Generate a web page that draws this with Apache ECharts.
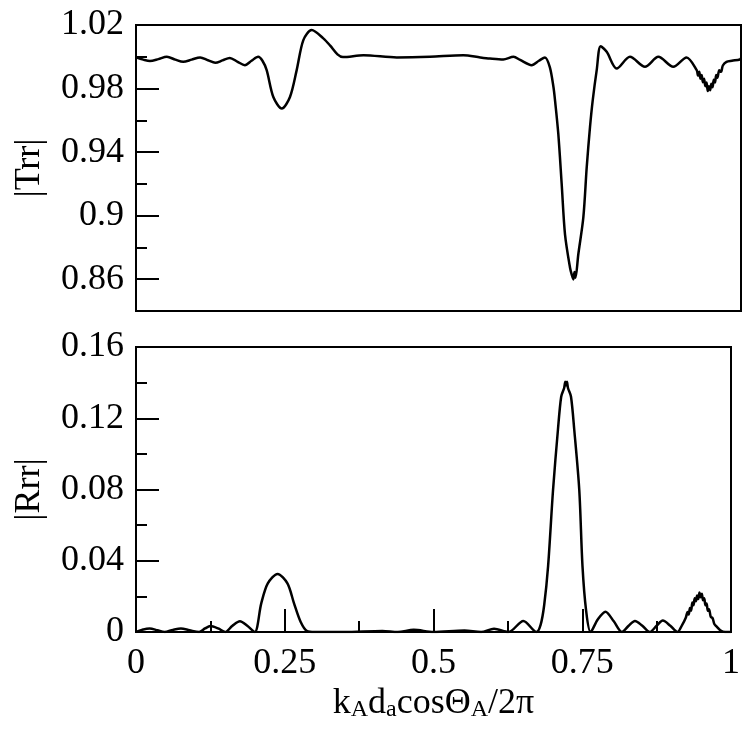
<!DOCTYPE html>
<html>
<head>
<meta charset="utf-8">
<script src="https://cdn.jsdelivr.net/npm/echarts@6/dist/echarts.min.js"></script>
<style>html,body{margin:0;padding:0;background:#fff;}#c{width:743px;height:733px;}</style>
</head>
<body>
<div id="c"></div>
<script>
// |Trr| (top panel)
var trrX = [0.000,0.012,0.023,0.037,0.051,0.065,0.078,0.092,0.106,0.119,0.131,0.143,0.155,0.168,0.180,0.191,0.202,0.209,0.216,0.227,0.241,0.2545,0.2656,0.2766,0.2904,0.3096,0.321,0.333,0.342,0.376,0.431,0.486,0.541,0.569,0.585,0.607,0.624,0.635,0.654,0.666,0.676,0.684,0.690,0.6926,0.698,0.7036,0.7091,0.7174,0.7205,0.7229,0.7248,0.7265,0.7311,0.7394,0.745,0.7504,0.7549,0.7615,0.768,0.778,0.7945,0.8165,0.8413,0.8634,0.888,0.910,0.9268,0.929,0.931,0.933,0.935,0.937,0.939,0.941,0.943,0.945,0.947,0.949,0.951,0.953,0.955,0.957,0.959,0.961,0.964,0.967,0.970,0.976,0.985,0.998,1.000];
var trrY = [0.9996,0.9982,0.9973,0.9985,1.0000,0.9982,0.9968,0.9982,0.9996,0.9978,0.9962,0.9977,0.9993,0.9968,0.9947,0.9975,1.0000,0.9975,0.9916,0.9747,0.9674,0.9747,0.9916,1.0105,1.0168,1.0116,1.0070,1.0015,0.9998,1.0010,0.9996,1.0000,1.0010,0.9996,0.9989,0.9983,1.0000,0.9980,0.9947,0.9975,0.9996,0.9935,0.9810,0.9726,0.9516,0.9200,0.8883,0.8672,0.8625,0.8599,0.8645,0.8610,0.8757,0.8989,0.9305,0.9557,0.9726,0.9916,1.0067,1.0031,0.9926,1.0000,0.9937,1.0000,0.9937,0.9996,0.9916,0.9880,0.9905,0.9862,0.9885,0.9840,0.9862,0.9815,0.9838,0.9785,0.9815,0.9790,0.9830,0.9808,0.9855,0.9838,0.9885,0.9868,0.9915,0.9905,0.9945,0.9968,0.9975,0.9983,0.9990];

// |Rrr| (bottom panel)
var rrrX = [0.000,0.010,0.023,0.036,0.048,0.062,0.0755,0.090,0.106,0.116,0.125,0.138,0.150,0.162,0.1747,0.187,0.1995,0.2105,0.2215,0.238,0.2545,0.2656,0.2766,0.2876,0.300,0.350,0.414,0.440,0.4667,0.500,0.552,0.580,0.6017,0.626,0.651,0.673,0.680,0.686,0.6926,0.7009,0.7091,0.7146,0.7196,0.7215,0.7229,0.7243,0.726,0.7311,0.7366,0.745,0.7504,0.7565,0.764,0.776,0.789,0.803,0.8165,0.828,0.8386,0.851,0.8634,0.875,0.8854,0.898,0.910,0.918,0.924,0.927,0.929,0.931,0.933,0.935,0.937,0.939,0.941,0.943,0.945,0.947,0.949,0.951,0.953,0.955,0.957,0.959,0.961,0.963,0.966,0.969,0.972,0.976,0.982,0.990,1.000];
var rrrY = [0.0000,0.0012,0.0020,0.0010,0.0000,0.0012,0.0020,0.0010,0.0000,0.0020,0.0033,0.0020,0.0000,0.0035,0.0060,0.0035,0.0000,0.0161,0.0273,0.0326,0.0273,0.0161,0.0058,0.0005,0.0000,0.0000,0.0006,0.0000,0.0012,0.0000,0.0008,0.0000,0.0018,0.0000,0.0062,0.0000,0.0040,0.0150,0.0370,0.0797,0.1134,0.1321,0.1370,0.1405,0.1385,0.1405,0.1370,0.1321,0.1134,0.0797,0.0370,0.0120,0.0000,0.0070,0.0114,0.0060,0.0000,0.0035,0.0062,0.0035,0.0000,0.0035,0.0064,0.0035,0.0000,0.0040,0.0080,0.0112,0.0098,0.0135,0.0120,0.0165,0.0150,0.0190,0.0172,0.0205,0.0185,0.0222,0.0195,0.0215,0.0178,0.0190,0.0150,0.0160,0.0120,0.0128,0.0085,0.0078,0.0045,0.0030,0.0010,0.0000,0.0000];

var topLabels = [0.86, 0.90, 0.94, 0.98, 1.02];
var topMajor = [0.86, 0.90, 0.94, 0.98];
var topMinor = [0.88, 0.92, 0.96, 1.00];
var botLabels = [0, 0.04, 0.08, 0.12, 0.16];
var botMajor = [0.04, 0.08, 0.12];
var botMinor = [0.02, 0.06, 0.10, 0.14];
var xMajor = [0.25, 0.5, 0.75];
var xMinor = [0.125, 0.375, 0.625, 0.875];
var xLabels = [0, 0.25, 0.5, 0.75, 1];

function pairs(xs, ys) { return xs.map(function (x, i) { return [x, ys[i]]; }); }

var FONT = '"Liberation Serif","Times New Roman",serif';
function lb() { return { color: '#000', width: 2 }; }
var labelStyle = { color: '#000', fontFamily: FONT, fontSize: 36 };

function tickAxis(grid, pos, min, max, vals, len, showLine) {
  return { type: 'value', gridIndex: grid, position: pos, min: min, max: max, z: 10,
    axisLine: { show: !!showLine, lineStyle: lb() },
    axisTick: { show: true, inside: true, length: len, customValues: vals, lineStyle: lb() },
    axisLabel: { show: false }, splitLine: { show: false } };
}
function hiddenX(grid) {
  return { type: 'value', gridIndex: grid, min: 0, max: 1, show: false };
}

var chart = echarts.init(document.getElementById('c'), null, { renderer: 'canvas' });
chart.setOption({
  animation: false,
  backgroundColor: '#fff',
  grid: [
    { left: 136, right: 2, top: 25, height: 286, show: true, borderColor: '#000', borderWidth: 2 },
    { left: 136, right: 2, top: 347, height: 285, show: true, borderColor: '#000', borderWidth: 2 },
    { left: 136, right: 2, top: 25, height: 286, show: false },
    { left: 136, right: 2, top: 347, height: 285, show: false }
  ],
  xAxis: [
    { type: 'value', gridIndex: 0, position: 'bottom', min: 0, max: 1, axisLine: { lineStyle: lb() }, axisTick: { show: false }, axisLabel: { show: false }, splitLine: { show: false } },
    { type: 'value', gridIndex: 1, position: 'bottom', min: 0, max: 1,
      axisLine: { lineStyle: lb() },
      axisTick: { show: false },
      axisLabel: Object.assign({ margin: 14, customValues: xLabels, formatter: function (v) { return String(v); } }, labelStyle),
      splitLine: { show: false },
      name: '{n|k}{s|A}{n|d}{s|a}{n|cosΘ}{s|A}{n|/2π}',
      nameLocation: 'middle', nameGap: 52,
      nameTextStyle: {
        rich: {
          n: { fontFamily: FONT, fontSize: 36, color: '#000', lineHeight: 38, verticalAlign: 'bottom' },
          s: { fontFamily: FONT, fontSize: 24, color: '#000', lineHeight: 22, verticalAlign: 'bottom' }
        }
      }
    },
    tickAxis(1, 'bottom', 0, 1, xMajor, 23),
    tickAxis(1, 'bottom', 0, 1, xMinor, 11),
    hiddenX(2),
    hiddenX(3)
  ],
  yAxis: [
    tickAxis(0, 'left', 0.84, 1.02, topMajor, 23, true),
    tickAxis(0, 'left', 0.84, 1.02, topMinor, 11),
    tickAxis(1, 'left', 0, 0.16, botMajor, 23, true),
    tickAxis(1, 'left', 0, 0.16, botMinor, 11),
    { type: 'value', gridIndex: 2, position: 'left', min: 0.84, max: 1.02, z: 1,
      axisLine: { show: false },
      axisTick: { show: false },
      axisLabel: Object.assign({ margin: 12, customValues: topLabels, formatter: function (v) { return String(+v.toFixed(2)); } }, labelStyle),
      splitLine: { show: false },
      name: '|Trr|', nameLocation: 'middle', nameGap: 88,
      nameTextStyle: { fontFamily: FONT, fontSize: 36, color: '#000' } },
    { type: 'value', gridIndex: 3, position: 'left', min: 0, max: 0.16, z: 1,
      axisLine: { show: false },
      axisTick: { show: false },
      axisLabel: Object.assign({ margin: 12, customValues: botLabels, formatter: function (v) { return String(+v.toFixed(2)); } }, labelStyle),
      splitLine: { show: false },
      name: '|Rrr|', nameLocation: 'middle', nameGap: 88,
      nameTextStyle: { fontFamily: FONT, fontSize: 36, color: '#000' } }
  ],
  series: [
    { type: 'line', xAxisIndex: 0, yAxisIndex: 0, data: pairs(trrX, trrY), showSymbol: false, smooth: 0.3, lineStyle: { color: '#000', width: 2.5 }, clip: true },
    { type: 'line', xAxisIndex: 1, yAxisIndex: 2, data: pairs(rrrX, rrrY), showSymbol: false, smooth: 0.3, lineStyle: { color: '#000', width: 2.5 }, clip: true }
  ]
});
</script>
</body>
</html>
